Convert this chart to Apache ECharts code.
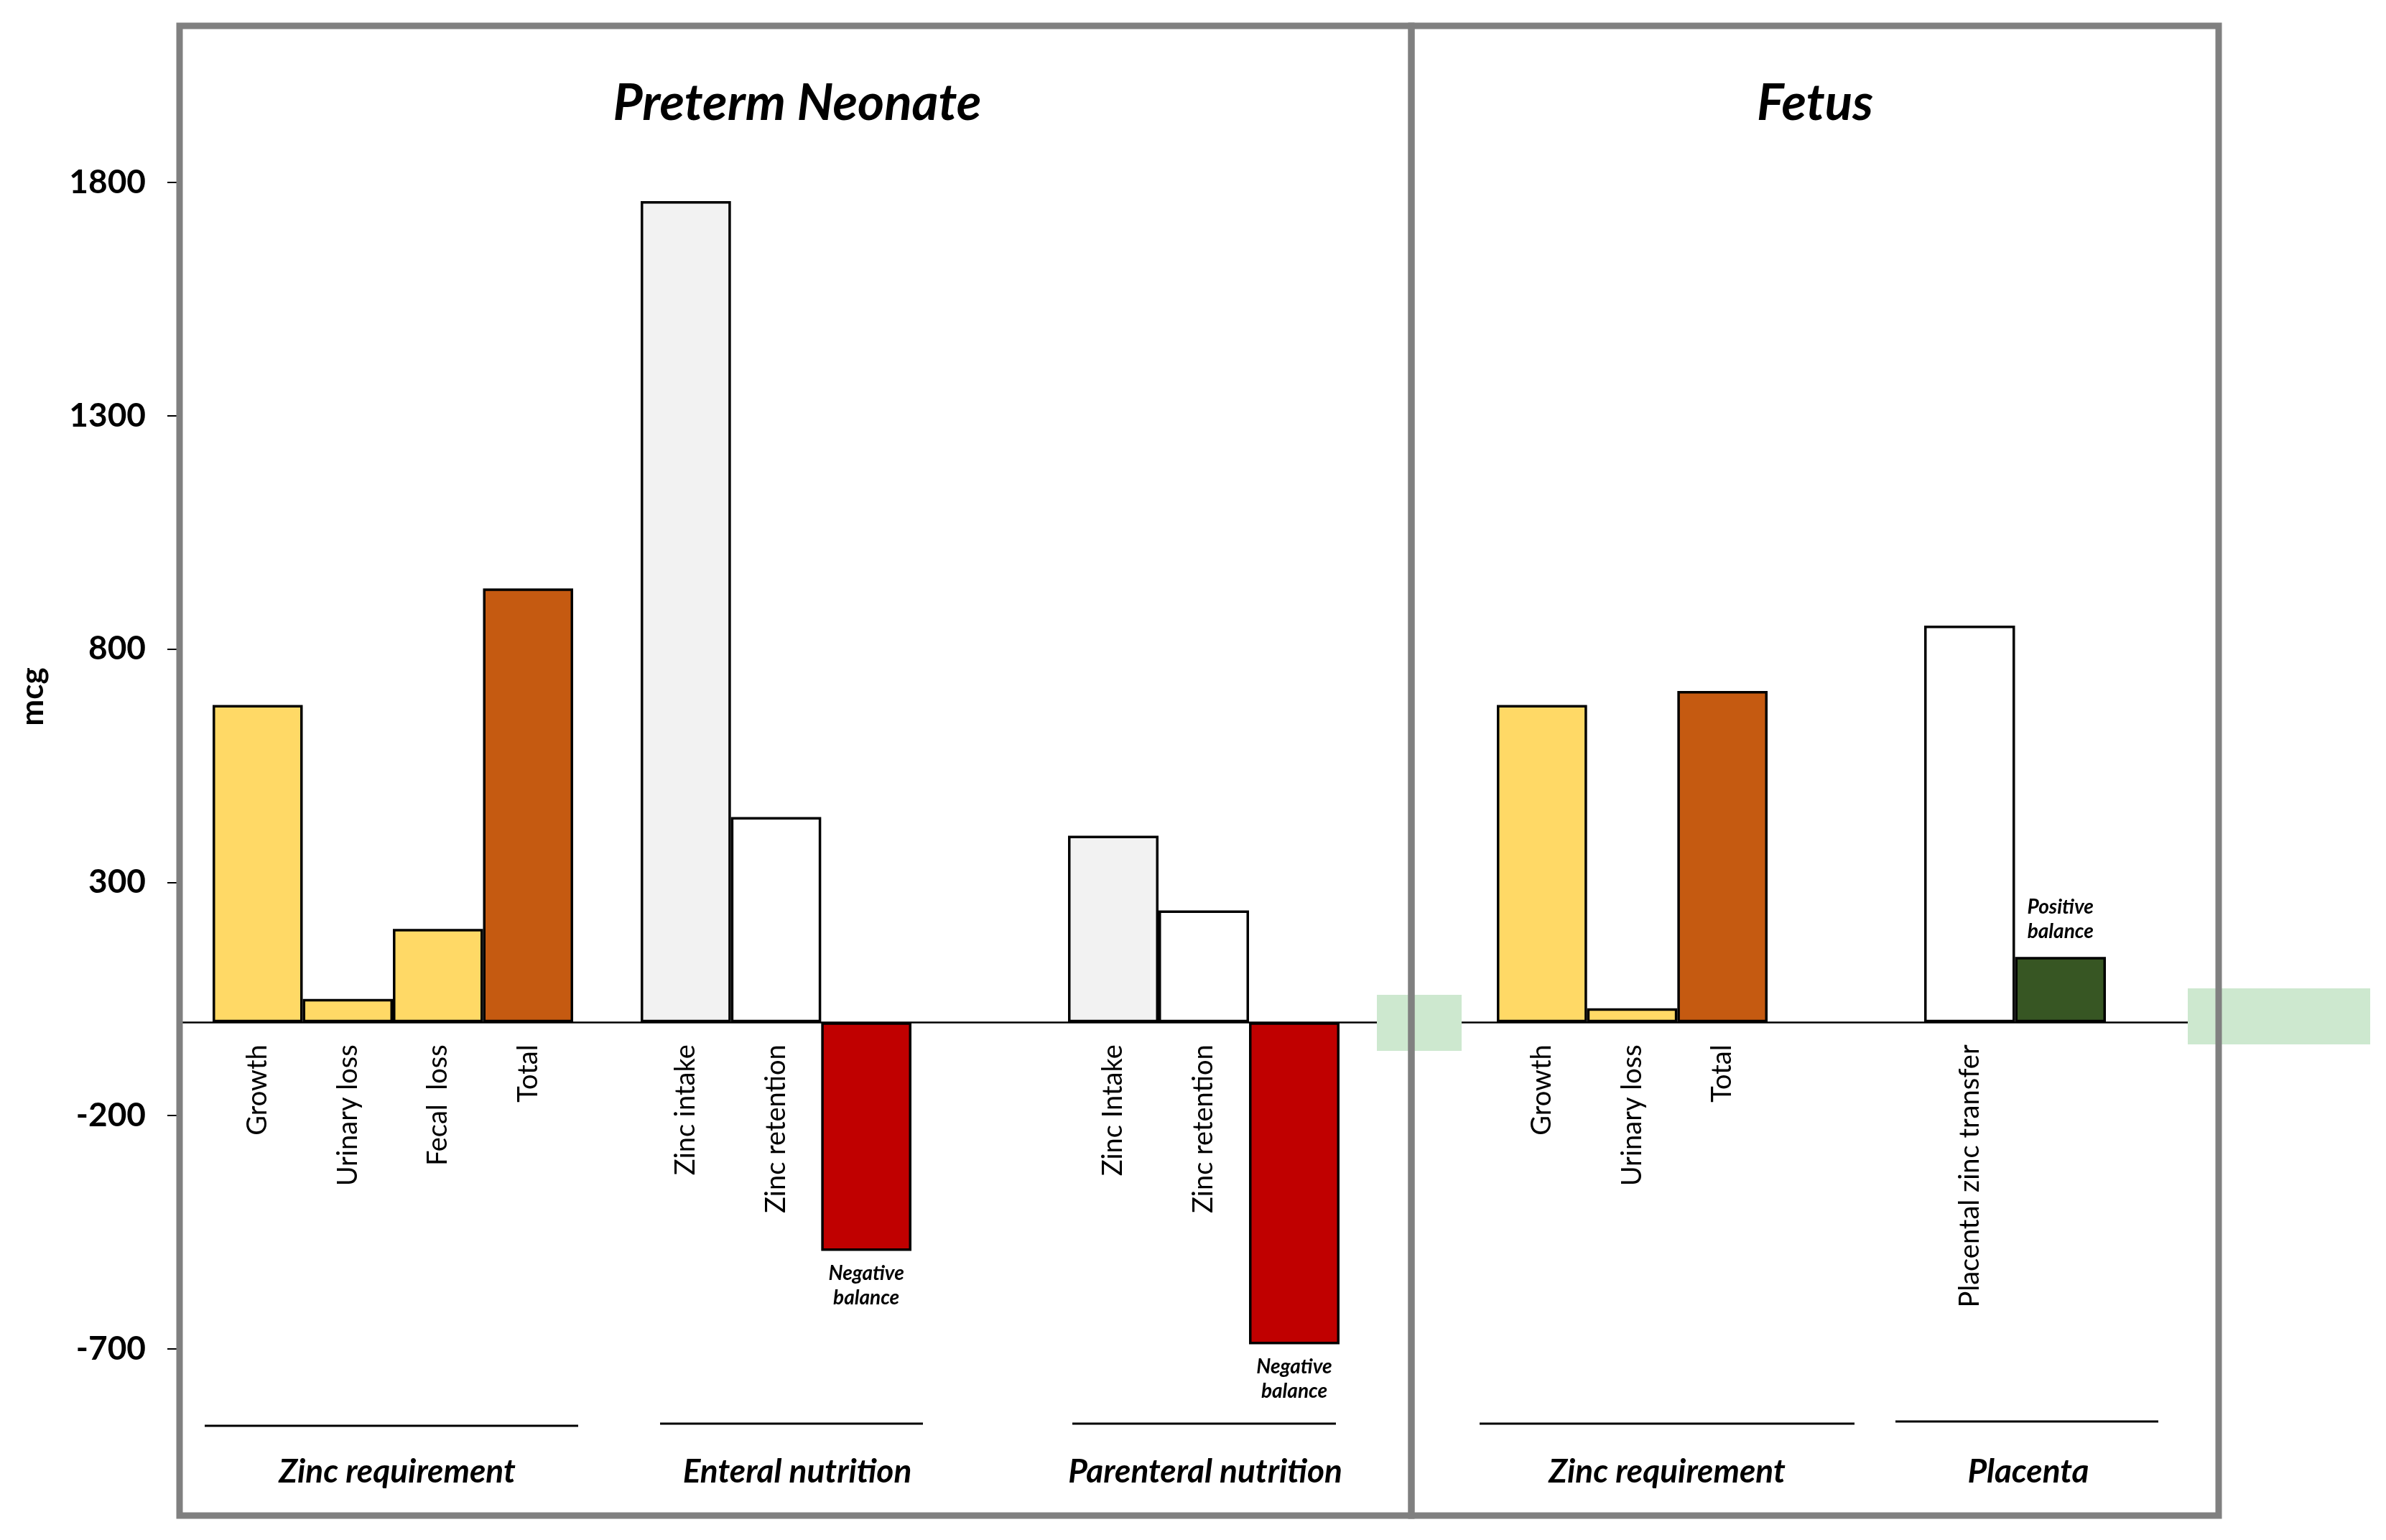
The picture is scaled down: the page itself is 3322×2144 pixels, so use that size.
<!DOCTYPE html>
<html>
<head>
<meta charset="utf-8">
<title>Zinc balance</title>
<script src="https://cdn.jsdelivr.net/npm/echarts@6/dist/echarts.min.js"></script>
<style>
  html, body { margin: 0; padding: 0; background: #fff; }
  #chart { width: 3322px; height: 2144px; }
</style>
</head>
<body>
<div id="chart"></div>
<script>
// values (mcg)
const preCats = ['Growth', 'Urinary loss', 'Fecal  loss', 'Total'];
const preVals = [680, 50, 200, 930];
const entCats = ['Zinc intake', 'Zinc retention', ''];
const entVals = [1760, 440, -490];
const entNotes = ['', '', 'Negative\nbalance'];
const parCats = ['Zinc Intake', 'Zinc retention', ''];
const parVals = [400, 240, -690];
const parNotes = ['', '', 'Negative\nbalance'];
const fetCats = ['Growth', 'Urinary loss', 'Total'];
const fetVals = [680, 30, 710];
const plaCats = ['Placental zinc transfer', ''];
const plaVals = [850, 140];
const plaNotes = ['', 'Positive\nbalance'];
const groupNames = ['Zinc requirement', 'Enteral nutrition', 'Parenteral nutrition', 'Zinc requirement', 'Placenta'];
const panelTitles = ['Preterm Neonate', 'Fetus'];
const yMin = -700, yMax = 1800, yStep = 500;

const FONT = 'Lato, "Open Sans", sans-serif';
const YELLOW = '#FFD966', ORANGE = '#C55A11', LGRAY = '#F2F2F2',
      WHITE = '#FFFFFF', RED = '#C00000', DGREEN = '#375623';

const chart = echarts.init(document.getElementById('chart'));

// plot area shared by every group
const TOP = 254, BOTTOM = 266;
const groups = [
  { cats: preCats, vals: preVals, notes: null, colors: [YELLOW, YELLOW, YELLOW, ORANGE], left: 296, width: 502 },
  { cats: entCats, vals: entVals, notes: entNotes, colors: [LGRAY, WHITE, RED], left: 892, width: 377 },
  { cats: parCats, vals: parVals, notes: parNotes, colors: [LGRAY, WHITE, RED], left: 1487, width: 378 },
  { cats: fetCats, vals: fetVals, notes: null, colors: [YELLOW, YELLOW, ORANGE], left: 2084, width: 377 },
  { cats: plaCats, vals: plaVals, notes: plaNotes, colors: [WHITE, DGREEN], left: 2679, width: 253 }
];

const grids = [{ left: 250, right: 233, top: TOP, bottom: BOTTOM, containLabel: false, outerBoundsMode: 'none' }];
const xAxes = [{
  gridIndex: 0, type: 'value', min: 0, max: 1,
  axisLine: { show: true, onZero: true, lineStyle: { color: '#000', width: 2.5 } },
  axisTick: { show: false }, axisLabel: { show: false }, splitLine: { show: false }
}];
const yAxes = [{
  gridIndex: 0, type: 'value', min: yMin, max: yMax, interval: yStep,
  axisLine: { show: false },
  axisTick: { show: true, length: 17, lineStyle: { color: '#000', width: 2 } },
  axisLabel: { margin: 47, color: '#000', fontSize: 46, fontWeight: 'bold', fontFamily: FONT, formatter: v => String(v) },
  splitLine: { show: false }
}];
const series = [];

// category name hangs rotated just under the zero line; notes sit off the bar end
function itemLabel(cat, note, v) {
  if (note) {
    return {
      show: true, formatter: note,
      position: v < 0 ? 'bottom' : 'top', distance: v < 0 ? 14 : 18,
      color: '#000', fontSize: 28, lineHeight: 34,
      fontStyle: 'italic', fontWeight: 'bold', fontFamily: FONT
    };
  }
  return {
    show: cat !== '', formatter: cat,
    position: ['50%', '100%'], rotate: 90, align: 'right', verticalAlign: 'middle',
    padding: [0, 31, 0, 0],
    color: '#000', fontSize: 38, fontFamily: FONT
  };
}

groups.forEach((g, i) => {
  const k = i + 1;
  grids.push({ left: g.left, width: g.width, top: TOP, bottom: BOTTOM, containLabel: false, outerBoundsMode: 'none' });
  xAxes.push({ gridIndex: k, type: 'category', data: g.cats, show: false });
  yAxes.push({ gridIndex: k, type: 'value', min: yMin, max: yMax, show: false, splitLine: { show: false } });
  series.push({
    type: 'bar', xAxisIndex: k, yAxisIndex: k, barCategoryGap: '0%',
    labelLayout: { hideOverlap: false },
    data: g.vals.map((v, j) => ({
      value: v,
      itemStyle: { color: g.colors[j], borderColor: '#000', borderWidth: 3.5 },
      label: itemLabel(g.cats[j], g.notes ? g.notes[j] : '', v)
    }))
  });
});

// decorations: panel frames, group underlines and captions
const groupLines = [[285, 805, 1985], [919, 1285, 1982], [1493, 1860, 1982], [2060, 2582, 1982], [2639, 3005, 1979]];
const captionX = [553, 1110, 1678, 2321, 2824];
const graphic = [
  { type: 'rect', z: 1, shape: { x: 1917, y: 1385, width: 118, height: 78 }, style: { fill: '#CDE8CF' } },
  { type: 'rect', z: 1, shape: { x: 3046, y: 1376, width: 254, height: 78 }, style: { fill: '#CDE8CF' } },
  { type: 'rect', z: 10, shape: { x: 250, y: 36, width: 1715, height: 2074 }, style: { fill: 'none', stroke: '#808080', lineWidth: 9 } },
  { type: 'rect', z: 10, shape: { x: 1965, y: 36, width: 1124, height: 2074 }, style: { fill: 'none', stroke: '#808080', lineWidth: 9 } },
  { type: 'text', z: 10, x: 1110, y: 144, style: { text: panelTitles[0], align: 'center', verticalAlign: 'middle', fill: '#000', font: 'italic bold 71px ' + FONT } },
  { type: 'text', z: 10, x: 2527, y: 144, style: { text: panelTitles[1], align: 'center', verticalAlign: 'middle', fill: '#000', font: 'italic bold 71px ' + FONT } },
  { type: 'text', z: 10, x: 46, y: 970, rotation: Math.PI / 2, style: { text: 'mcg', align: 'center', verticalAlign: 'middle', fill: '#000', font: 'bold 44px ' + FONT } }
];
groupLines.forEach((ln, i) => {
  graphic.push({ type: 'line', z: 10, shape: { x1: ln[0], y1: ln[2], x2: ln[1], y2: ln[2] }, style: { stroke: '#000', lineWidth: 3 } });
  graphic.push({
    type: 'text', z: 10, x: captionX[i], y: 2049,
    style: { text: groupNames[i], align: 'center', verticalAlign: 'middle', fill: '#000', font: 'italic bold 46px ' + FONT }
  });
});

chart.setOption({
  animation: false,
  backgroundColor: '#fff',
  grid: grids,
  xAxis: xAxes,
  yAxis: yAxes,
  series: series,
  graphic: graphic
});
</script>
</body>
</html>
